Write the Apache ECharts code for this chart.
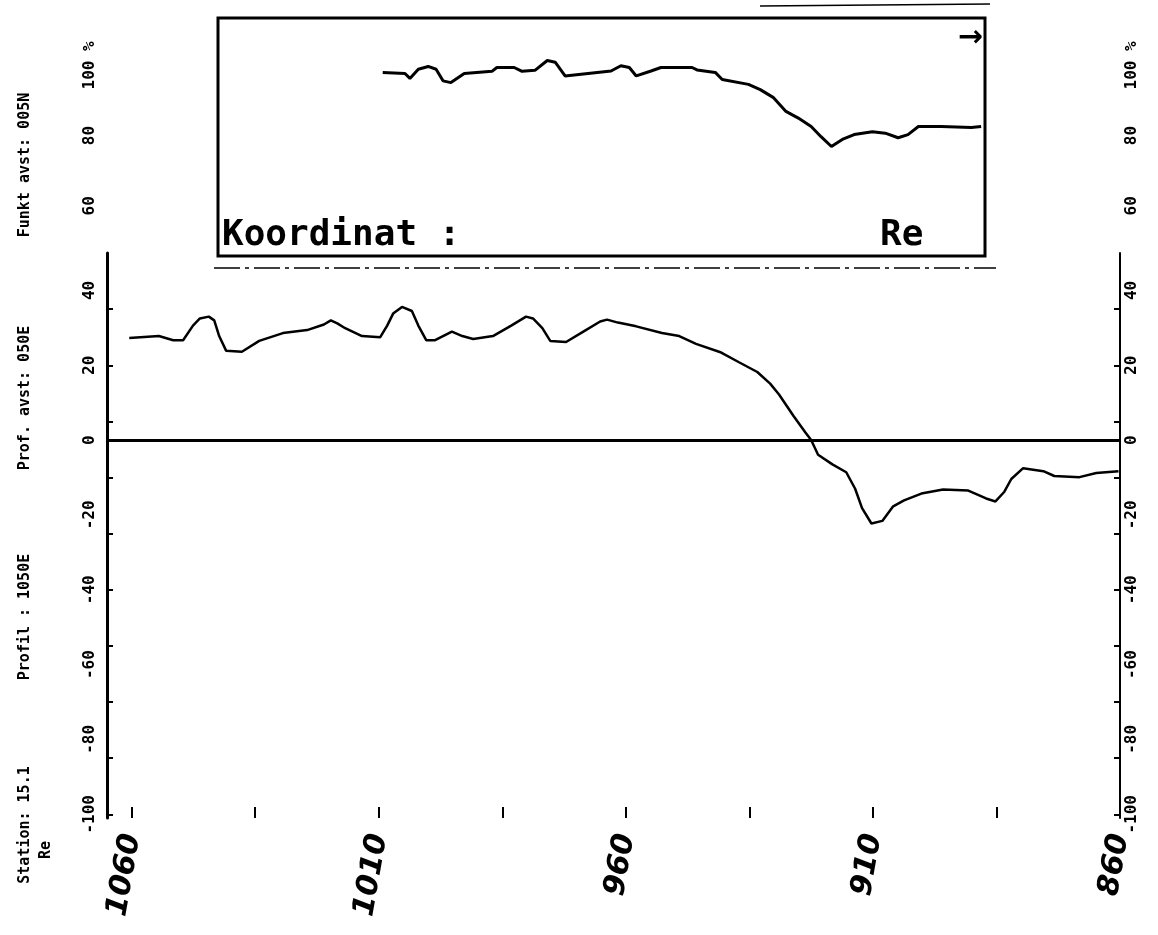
<!DOCTYPE html>
<html style="height: 100%">
<head>
    <meta charset="utf-8">
    <title>Profil 1050E</title>
</head>
<body style="height: 100%; margin: 0; background: #fff">
<div id="container" style="width: 1158px; height: 935px"></div>
<script type="text/javascript" src="https://cdn.jsdelivr.net/npm/echarts@6/dist/echarts.min.js"></script>
<script type="text/javascript">
    // profil: stasjon (koordinat) og verdi
    var stations = [1060.5, 1054.5, 1051.6, 1049.6, 1047.6, 1046.2, 1044.4, 1043.3, 1042.3, 1040.9,
        1037.7, 1034.2, 1029.4, 1024.5, 1021.1, 1019.7, 1018.4, 1016.8, 1013.4, 1009.7,
        1008.3, 1007.1, 1005.3, 1003.3, 1002.0, 1000.4, 998.6, 995.2, 993.1, 990.9,
        986.9, 983.2, 980.2, 978.8, 976.9, 975.3, 972.1, 968.6, 965.2, 963.8,
        961.6, 957.9, 952.7, 949.2, 945.8, 940.7, 937.1, 933.4, 930.8, 929.0,
        926.1, 923.7, 922.5, 921.1, 918.2, 915.4, 913.6, 912.2, 910.3, 908.1,
        905.9, 903.7, 900.2, 895.8, 890.7, 887.1, 885.2, 883.4, 882.0, 879.6,
        875.5, 873.3, 868.2, 864.8, 860.3];
    var profileValues = [27.3, 27.8, 26.7, 26.7, 30.6, 32.5, 33.0, 32.0, 27.8, 23.9,
        23.6, 26.5, 28.6, 29.4, 30.9, 32.0, 31.2, 29.9, 27.8, 27.5,
        30.6, 33.8, 35.6, 34.5, 30.6, 26.7, 26.7, 29.0, 27.8, 27.0,
        27.8, 30.6, 33.0, 32.5, 29.9, 26.5, 26.2, 29.0, 31.7, 32.2,
        31.4, 30.4, 28.6, 27.8, 25.7, 23.4, 20.8, 18.2, 15.1, 12.2,
        6.5, 2.1, 0.0, -3.9, -6.5, -8.6, -13.0, -18.2, -22.3, -21.6,
        -17.7, -16.1, -14.3, -13.2, -13.5, -15.6, -16.4, -13.8, -10.4, -7.5,
        -8.3, -9.6, -9.9, -8.8, -8.3];

    // innfelt: prosent
    var insetStations = [1009.2, 1004.7, 1003.7, 1002.0, 1000.0, 998.4, 997.0, 995.4, 992.7, 987.1,
        986.1, 982.6, 981.0, 978.4, 975.9, 974.3, 972.3, 963.0, 961.0, 959.3,
        957.9, 954.9, 952.9, 946.6, 945.6, 941.9, 940.5, 935.2, 932.8, 930.2,
        927.6, 925.1, 922.5, 920.5, 918.4, 916.2, 913.8, 910.1, 907.5, 904.9,
        902.9, 900.8, 896.2, 890.1, 888.1];
    var insetPercent = [98.0, 97.7, 96.3, 98.9, 99.7, 98.9, 95.6, 95.1, 97.7, 98.3,
        99.4, 99.4, 98.3, 98.6, 101.4, 100.9, 97.0, 98.4, 99.9, 99.4,
        97.0, 98.4, 99.4, 99.4, 98.7, 98.0, 96.0, 94.6, 93.1, 90.9,
        86.9, 85.0, 82.6, 79.7, 76.9, 78.9, 80.3, 81.1, 80.7, 79.4,
        80.3, 82.6, 82.6, 82.3, 82.6];

    var xLabels = [1060, 1010, 960, 910, 860];
    var xTicks = [1060, 1035, 1010, 985, 960, 935, 910, 885, 860];
    var yLabels = [-100, -80, -60, -40, -20, 0, 20, 40];
    var yTicks = [35, 20, 5, -10, -25, -40, -55, -70, -85, -100];
    var pctLabels = [60, 80, 100];

    var mono = '"DejaVu Sans Mono", monospace';

    function zip(a, b) {
        var out = [];
        for (var i = 0; i < a.length; i++) out.push([a[i], b[i]]);
        return out;
    }

    var dom = document.getElementById("container");
    var myChart = echarts.init(dom, null, {renderer: 'canvas'});

    var yLab = {
        customValues: yLabels, rotate: 90, margin: 9,
        color: '#000', fontFamily: mono, fontWeight: 'bold', fontSize: 16,
        formatter: function (v) { return String(v); }
    };
    var pctFmt = function (v) { return v === 100 ? '100 %' : String(v); };

    option = {
        animation: false,
        backgroundColor: '#fff',
        grid: [
            {left: 107, right: 38, top: 253, bottom: 117},
            {left: 107, right: 38, top: 18, bottom: 680}
        ],
        xAxis: [
            {
                gridIndex: 0, type: 'value', min: 860, max: 1065, inverse: true,
                axisLine: {show: false, onZero: false},
                splitLine: {show: false},
                axisTick: {show: true, inside: true, length: 11, customValues: xTicks,
                    lineStyle: {color: '#000', width: 2}},
                axisLabel: {
                    customValues: xLabels, rotate: 80, margin: 16,
                    color: '#000', fontFamily: '"DejaVu Sans", sans-serif',
                    fontStyle: 'italic', fontWeight: 'bold', fontSize: 30,
                    formatter: function (v) { return String(v); }
                }
            },
            {gridIndex: 1, type: 'value', min: 860, max: 1065, inverse: true, show: false}
        ],
        yAxis: [
            {
                gridIndex: 0, type: 'value', min: -101, max: 50, position: 'left',
                axisLine: {show: true, onZero: false, lineStyle: {color: '#000', width: 3}},
                axisTick: {show: true, inside: true, length: 6, customValues: yTicks,
                    lineStyle: {color: '#000', width: 2}},
                splitLine: {show: false},
                axisLabel: yLab
            },
            {
                gridIndex: 0, type: 'value', min: -101, max: 50, position: 'right',
                axisLine: {show: true, onZero: false, lineStyle: {color: '#000', width: 2}},
                axisTick: {show: true, inside: true, length: 6, customValues: yTicks,
                    lineStyle: {color: '#000', width: 2}},
                splitLine: {show: false},
                axisLabel: Object.assign({}, yLab, {margin: 4})
            },
            {
                gridIndex: 1, type: 'value', min: 46, max: 113.5, position: 'left',
                axisLine: {show: false}, axisTick: {show: false}, splitLine: {show: false},
                axisLabel: Object.assign({}, yLab, {customValues: pctLabels, formatter: pctFmt})
            },
            {
                gridIndex: 1, type: 'value', min: 46, max: 113.5, position: 'right',
                axisLine: {show: false}, axisTick: {show: false}, splitLine: {show: false},
                axisLabel: Object.assign({}, yLab, {customValues: pctLabels, margin: 4, formatter: pctFmt})
            }
        ],
        series: [
            {
                type: 'line', xAxisIndex: 0, yAxisIndex: 0,
                data: zip(stations, profileValues),
                showSymbol: false,
                lineStyle: {color: '#000', width: 2.5},
                markLine: {
                    silent: true, symbol: 'none', label: {show: false},
                    lineStyle: {color: '#000', width: 3, type: 'solid'},
                    data: [{yAxis: 0}]
                }
            },
            {
                type: 'line', xAxisIndex: 1, yAxisIndex: 2,
                data: zip(insetStations, insetPercent),
                showSymbol: false,
                lineStyle: {color: '#000', width: 3}
            }
        ],
        graphic: [
            // ramme rundt innfelt kurve
            {type: 'rect', shape: {x: 218, y: 18, width: 767, height: 238},
                style: {fill: null, stroke: '#000', lineWidth: 3}, z: 10},
            {type: 'line', shape: {x1: 214, y1: 268, x2: 996, y2: 268},
                style: {stroke: '#000', lineWidth: 1.5, lineDash: [26, 5, 4, 5]}},
            {type: 'line', shape: {x1: 760, y1: 6, x2: 990, y2: 4},
                style: {stroke: '#000', lineWidth: 1.5}},
            {type: 'text', x: 222, y: 254, z: 10,
                style: {text: 'Koordinat :', font: 'bold 36px ' + mono, fill: '#000',
                    textAlign: 'left', textVerticalAlign: 'bottom'}},
            {type: 'text', x: 880, y: 254, z: 10,
                style: {text: 'Re', font: 'bold 36px ' + mono, fill: '#000',
                    textAlign: 'left', textVerticalAlign: 'bottom'}},
            {type: 'text', x: 983, y: 38, z: 10,
                style: {text: '→', font: 'bold 30px "DejaVu Sans", sans-serif', fill: '#000',
                    textAlign: 'right', textVerticalAlign: 'middle'}},
            // stasjonsinfo langs venstre kant
            {type: 'text', x: 25, y: 825, rotation: Math.PI / 2,
                style: {text: 'Station: 15.1', font: 'bold 15px ' + mono, fill: '#000',
                    textAlign: 'center', textVerticalAlign: 'middle'}},
            {type: 'text', x: 46, y: 850, rotation: Math.PI / 2,
                style: {text: 'Re', font: 'bold 15px ' + mono, fill: '#000',
                    textAlign: 'center', textVerticalAlign: 'middle'}},
            {type: 'text', x: 25, y: 617, rotation: Math.PI / 2,
                style: {text: 'Profil : 1050E', font: 'bold 15px ' + mono, fill: '#000',
                    textAlign: 'center', textVerticalAlign: 'middle'}},
            {type: 'text', x: 25, y: 398, rotation: Math.PI / 2,
                style: {text: 'Prof. avst: 050E', font: 'bold 15px ' + mono, fill: '#000',
                    textAlign: 'center', textVerticalAlign: 'middle'}},
            {type: 'text', x: 25, y: 165, rotation: Math.PI / 2,
                style: {text: 'Funkt avst: 005N', font: 'bold 15px ' + mono, fill: '#000',
                    textAlign: 'center', textVerticalAlign: 'middle'}}
        ]
    };

    if (option && typeof option === "object") {
        myChart.setOption(option, true);
    }
</script>
</body>
</html>
